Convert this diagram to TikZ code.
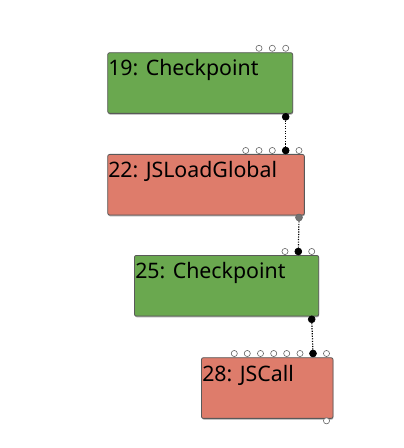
\documentclass[tikz,border=0pt]{standalone}
\usepackage{fontspec}
\setmainfont{Noto Sans}
\usetikzlibrary{shadows}

\definecolor{ctrlgreen}{RGB}{106,168,79}
\definecolor{jsred}{RGB}{222,124,107}

\tikzset{
  opbox/.style={draw=black!65, line width=0.6pt, rounded corners=1.5pt,
    anchor=north west, inner sep=0pt, minimum height=45.5pt,
    drop shadow={shadow xshift=0.3pt, shadow yshift=-0.9pt, fill=black!35, opacity=1}},
  ctrlop/.style={opbox, fill=ctrlgreen},
  jsop/.style={opbox, fill=jsred},
  opname/.style={anchor=base west, inner sep=0pt, font=\fontsize{16}{19}\selectfont},
  port/.style={circle, draw=black!60, fill=white, line width=0.45pt,
    inner sep=0pt, minimum size=4.6pt},
  used/.style={port, draw=black, fill=black, minimum size=5.2pt},
  usedgray/.style={port, draw=black!60, fill=black!55, minimum size=5.2pt},
  flow/.style={densely dotted, line width=0.9pt}
}

\begin{document}
\begin{tikzpicture}[x=0.75pt, y=-0.75pt]
  \useasboundingbox (0,0) rectangle (403,448);

  % operator boxes
  \node[ctrlop, minimum width=138.75pt] (op19) at (107.3,52.3) {};
  \node[jsop, minimum width=147.5pt] (op22) at (107.3,154) {};
  \node[ctrlop, minimum width=138.25pt] (op25) at (134,255) {};
  \node[jsop, minimum width=98.75pt] (op28) at (201,357.3) {};

  % names
  \node[opname] (t19) at (108,76) {19: Checkpoint};
  \node[opname] (t22) at (108,177.5) {22: JSLoadGlobal};
  \node[opname] (t25) at (135,278.5) {25: Checkpoint};
  \node[opname] (t28) at (202,381) {28: JSCall};

  % input ports
  \foreach \x [count=\i] in {259,272.3,285.7}
    \node[port] (in19-\i) at (\x,48.3) {};
  \foreach \x [count=\i] in {245.7,259,272.3,285.7,299}
    \node[port] (in22-\i) at (\x,150.5) {};
  \foreach \x [count=\i] in {285,298.3,311.7}
    \node[port] (in25-\i) at (\x,251.5) {};
  \foreach \x [count=\i] in {234.3,247.3,260.5,273.7,286.7,300,313,326.5}
    \node[port] (in28-\i) at (\x,353.5) {};

  % used inputs
  \node[used] (use22) at (in22-4) {};
  \node[used] (use25) at (in25-2) {};
  \node[used] (use28) at (in28-7) {};

  % outputs
  \node[used] (out19) at (285.7,116.8) {};
  \node[usedgray] (out22) at (299,217.5) {};
  \node[used] (out25) at (311.7,319.3) {};
  \node[port] (out28) at (326.5,420.8) {};

  % control/effect edges
  \draw[flow] (out19) -- (use22);
  \draw[flow] (out22) -- (use25);
  \draw[flow] (out25) -- (use28);

\end{tikzpicture}
\end{document}
